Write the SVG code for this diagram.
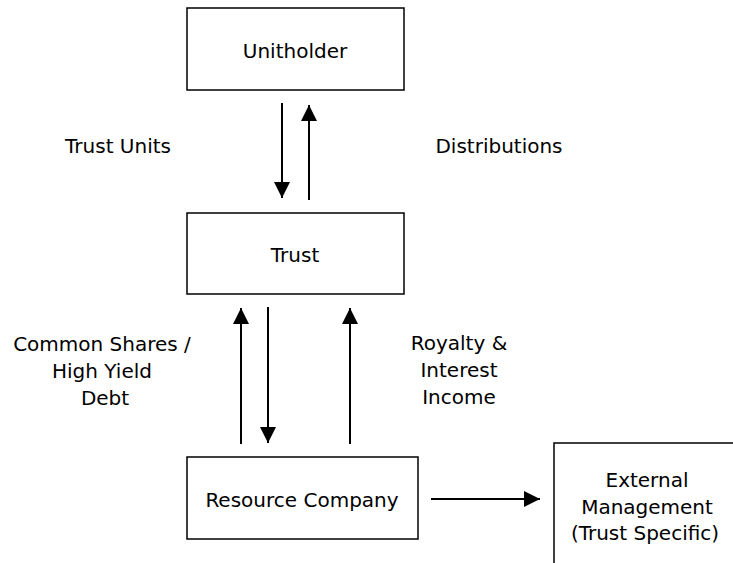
<svg xmlns="http://www.w3.org/2000/svg" width="733" height="563" viewBox="0 0 733 563">
  <style>
    .box { fill: #ffffff; stroke: #000000; stroke-width: 1.5; }
    .lbl { font-family: "DejaVu Sans", Verdana, sans-serif; font-size: 20px; fill: #000000; text-anchor: middle; }
    .flow { stroke: #000000; stroke-width: 2; fill: none; marker-end: url(#head); }
  </style>
  <defs>
    <marker id="head" viewBox="0 0 16 16" refX="16" refY="8" markerWidth="16" markerHeight="16" markerUnits="userSpaceOnUse" orient="auto">
      <path d="M0,0 L16,8 L0,16 Z" fill="#000000"/>
    </marker>
  </defs>
  <rect width="733" height="563" fill="#ffffff"/>

  <g id="unitholder">
    <rect class="box" x="187" y="8" width="217" height="82"/>
    <text class="lbl" x="295" y="58">Unitholder</text>
  </g>

  <g id="trust">
    <rect class="box" x="187" y="213" width="217" height="81"/>
    <text class="lbl" x="295" y="262">Trust</text>
  </g>

  <g id="resource-company">
    <rect class="box" x="187" y="457" width="231" height="82"/>
    <text class="lbl" x="302" y="507">Resource Company</text>
  </g>

  <g id="external-management">
    <rect class="box" x="554" y="443" width="200" height="140"/>
    <text class="lbl" x="647" y="487">External</text>
    <text class="lbl" x="647" y="514">Management</text>
    <text class="lbl" x="645" y="540">(Trust Specific)</text>
  </g>

  <g id="connectors">
    <line class="flow" x1="282" y1="103" x2="282" y2="198"/>
    <line class="flow" x1="309" y1="200" x2="309" y2="105"/>
    <line class="flow" x1="241" y1="444" x2="241" y2="308"/>
    <line class="flow" x1="268" y1="307" x2="268" y2="443"/>
    <line class="flow" x1="350" y1="444" x2="350" y2="308"/>
    <line class="flow" x1="431" y1="499" x2="540" y2="499"/>
  </g>

  <g id="labels">
    <text class="lbl" x="118" y="153">Trust Units</text>
    <text class="lbl" x="499" y="153">Distributions</text>
    <text class="lbl" x="102" y="351">Common Shares /</text>
    <text class="lbl" x="102" y="378">High Yield</text>
    <text class="lbl" x="105" y="405">Debt</text>
    <text class="lbl" x="459" y="350">Royalty &amp;</text>
    <text class="lbl" x="459" y="377">Interest</text>
    <text class="lbl" x="459" y="404">Income</text>
  </g>
</svg>
